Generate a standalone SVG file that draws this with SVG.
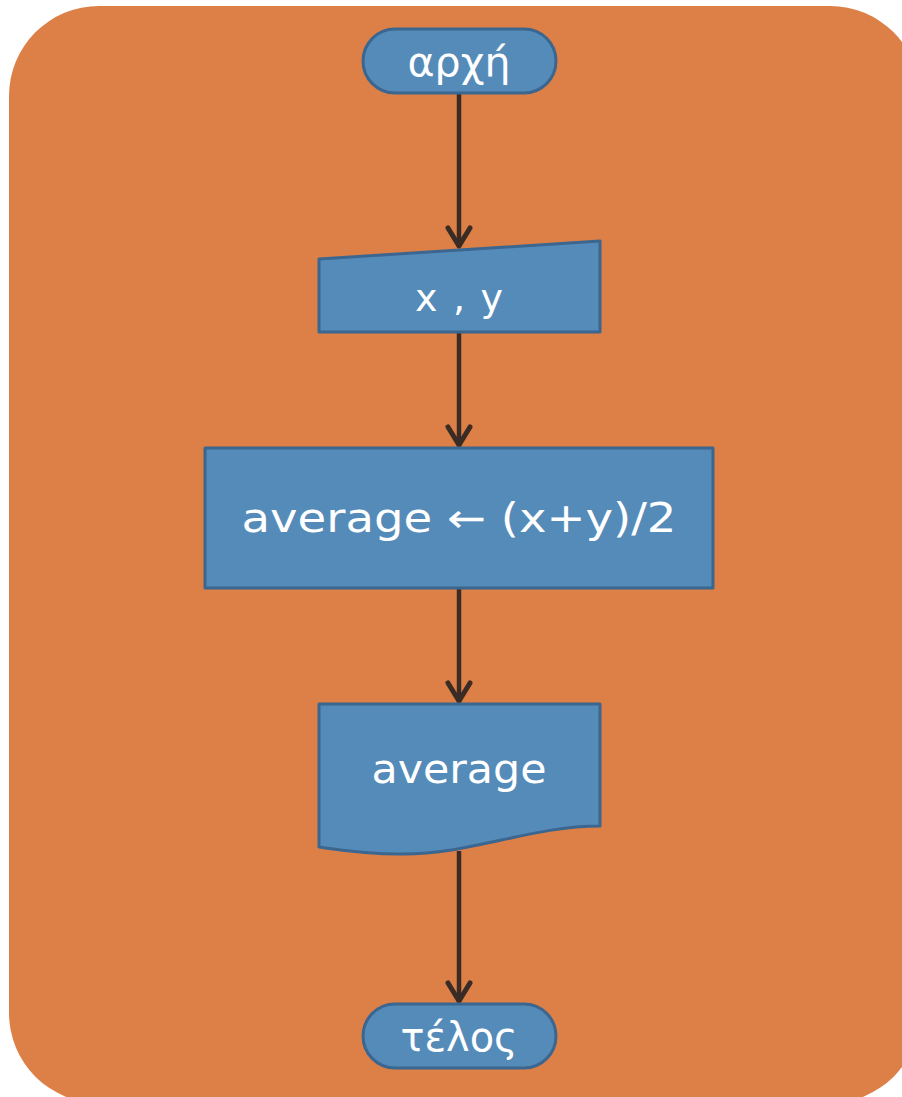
<svg xmlns="http://www.w3.org/2000/svg" width="902" height="1097" viewBox="0 0 902 1097">
<style>
.shape{fill:#558BB9;stroke:#3B668F;stroke-width:3;stroke-linejoin:round}
.lbl{fill:#FFFFFF;font-family:"DejaVu Sans","Noto Sans","Liberation Sans",sans-serif;text-anchor:middle}
.conn{stroke:#3A2C25;stroke-width:4.5;fill:none}
</style>
<defs>
<marker id="arr" viewBox="0 0 32 32" refX="26" refY="16" markerWidth="32" markerHeight="32" markerUnits="userSpaceOnUse" orient="auto">
<path d="M7,5 L25,16 L7,27" fill="none" stroke="#3A2C25" stroke-width="5" stroke-linecap="round" stroke-linejoin="round"/>
</marker>
</defs>
<rect x="9" y="6" width="911" height="1097" rx="90" ry="90" fill="#DD8047"/>
<g id="connectors">
<line class="conn" x1="459" y1="93" x2="459" y2="247" marker-end="url(#arr)"/>
<line class="conn" x1="459" y1="332" x2="459" y2="446" marker-end="url(#arr)"/>
<line class="conn" x1="459" y1="588" x2="459" y2="702" marker-end="url(#arr)"/>
<line class="conn" x1="459" y1="851" x2="459" y2="1002" marker-end="url(#arr)"/>
</g>
<g id="start">
<rect class="shape" x="363" y="29" width="193" height="64" rx="32" ry="32"/>
<text class="lbl" x="459" y="76" font-size="40" textLength="103" lengthAdjust="spacingAndGlyphs">αρχή</text>
</g>
<g id="input">
<path class="shape" d="M319,259 L600,241 L600,332 L319,332 Z"/>
<text class="lbl" x="459" y="311" font-size="38" textLength="88" lengthAdjust="spacing">x , y</text>
</g>
<g id="process">
<rect class="shape" x="205" y="448" width="508" height="140"/>
<text class="lbl" x="459" y="532" font-size="40" textLength="435" lengthAdjust="spacingAndGlyphs">average ← (x+y)/2</text>
</g>
<g id="output">
<path class="shape" d="M319,704 L600,704 L600,826 C530,826 470,855 400,854 C365,854 340,850 319,847 Z"/>
<text class="lbl" x="459" y="783" font-size="40" textLength="175" lengthAdjust="spacingAndGlyphs">average</text>
</g>
<g id="end">
<rect class="shape" x="363" y="1004" width="193" height="64" rx="32" ry="32"/>
<text class="lbl" x="459" y="1051" font-size="40" textLength="117" lengthAdjust="spacingAndGlyphs">τέλος</text>
</g>
</svg>
